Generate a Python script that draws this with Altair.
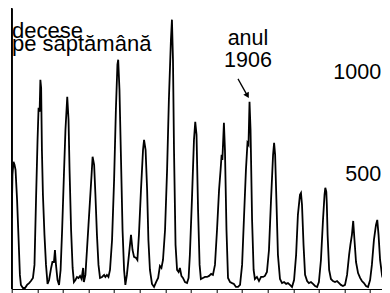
import altair as alt
import pandas as pd

# weekly deaths, x as fractional year
years = [1897.00, 1897.03, 1897.07, 1897.11, 1897.15, 1897.21, 1897.27, 1897.32, 1897.36, 1897.44,
         1897.52, 1897.60, 1897.68, 1897.75, 1897.83, 1897.89, 1897.95, 1898.01, 1898.05, 1898.09,
         1898.12, 1898.15, 1898.18, 1898.22, 1898.28, 1898.34, 1898.40, 1898.46, 1898.54, 1898.59,
         1898.65, 1898.69, 1898.73, 1898.79, 1898.85, 1898.91, 1898.97, 1899.04, 1899.10, 1899.17,
         1899.22, 1899.26, 1899.32, 1899.38, 1899.43, 1899.49, 1899.55, 1899.61, 1899.67, 1899.73,
         1899.79, 1899.82, 1899.88, 1899.94, 1900.00, 1900.06, 1900.12, 1900.16, 1900.22, 1900.27,
         1900.33, 1900.39, 1900.45, 1900.53, 1900.61, 1900.66, 1900.72, 1900.78, 1900.84, 1900.92,
         1901.00, 1901.07, 1901.13, 1901.16, 1901.21, 1901.27, 1901.33, 1901.39, 1901.44, 1901.50,
         1901.58, 1901.66, 1901.72, 1901.78, 1901.86, 1901.91, 1901.97, 1902.05, 1902.13, 1902.17,
         1902.23, 1902.29, 1902.34, 1902.40, 1902.48, 1902.56, 1902.64, 1902.72, 1902.79, 1902.85,
         1902.91, 1902.99, 1903.07, 1903.14, 1903.22, 1903.26, 1903.30, 1903.34, 1903.40, 1903.46,
         1903.52, 1903.57, 1903.63, 1903.69, 1903.77, 1903.85, 1903.91, 1903.96, 1904.04, 1904.12,
         1904.17, 1904.22, 1904.28, 1904.34, 1904.39, 1904.47, 1904.55, 1904.63, 1904.71, 1904.79,
         1904.86, 1904.94, 1905.02, 1905.10, 1905.16, 1905.20, 1905.23, 1905.29, 1905.33, 1905.39,
         1905.45, 1905.53, 1905.61, 1905.68, 1905.76, 1905.84, 1905.92, 1906.00, 1906.07, 1906.15,
         1906.21, 1906.25, 1906.29, 1906.33, 1906.39, 1906.45, 1906.50, 1906.58, 1906.66, 1906.74,
         1906.82, 1906.89, 1906.97, 1907.05, 1907.13, 1907.21, 1907.25, 1907.29, 1907.34, 1907.40,
         1907.48, 1907.56, 1907.64, 1907.72, 1907.79, 1907.87, 1907.95, 1908.03, 1908.11, 1908.18,
         1908.26, 1908.30, 1908.34, 1908.40, 1908.46, 1908.54, 1908.61, 1908.69, 1908.77, 1908.85,
         1908.93, 1909.00, 1909.08, 1909.16, 1909.22, 1909.25, 1909.29, 1909.31, 1909.34, 1909.40,
         1909.47, 1909.55, 1909.63, 1909.71, 1909.79, 1909.86, 1909.94, 1910.02, 1910.10, 1910.18,
         1910.23, 1910.29, 1910.34, 1910.39, 1910.45, 1910.53, 1910.61, 1910.68, 1910.76, 1910.84,
         1910.92, 1911.00, 1911.07, 1911.15, 1911.23, 1911.28, 1911.33, 1911.39, 1911.47, 1911.54,
         1911.62, 1911.70, 1911.78]

deaths = [348, 559, 622, 608, 583, 436, 240, 69, 20, 5,
          5, 20, 29, 39, 54, 118, 436, 730, 887, 867,
          1024, 985, 681, 461, 265, 118, 25, 44, 103, 132,
          132, 191, 118, 44, 20, 93, 289, 559, 779, 941,
          828, 583, 289, 103, 34, 44, 59, 54, 64, 49,
          103, 34, 69, 191, 314, 436, 559, 647, 608, 461,
          265, 118, 54, 59, 69, 59, 69, 59, 93, 240,
          534, 877, 1098, 1122, 975, 632, 289, 93, 20, 69,
          167, 265, 191, 157, 152, 142, 265, 485, 681, 730,
          681, 485, 240, 93, 25, 10, 34, 54, 113, 103,
          142, 289, 583, 926, 1220, 1318, 1122, 681, 216, 93,
          83, 103, 64, 54, 34, 29, 54, 167, 436, 730,
          818, 755, 387, 118, 49, 54, 59, 59, 64, 74,
          69, 118, 289, 485, 583, 657, 632, 813, 681, 289,
          54, 34, 29, 25, 10, 10, 20, 118, 338, 583,
          715, 706, 916, 779, 338, 93, 49, 59, 39, 59,
          59, 64, 83, 191, 436, 657, 715, 657, 436, 167,
          49, 29, 34, 25, 29, 20, 10, 44, 167, 363,
          461, 470, 412, 216, 69, 39, 29, 34, 25, 15,
          10, 34, 142, 338, 461, 495, 475, 412, 265, 93,
          49, 39, 34, 39, 29, 20, 15, 20, 69, 167,
          216, 265, 333, 240, 132, 78, 54, 39, 29, 15,
          10, 44, 118, 240, 314, 338, 265, 142, 64, 39,
          29, 25, 20]

tick_years = list(range(1897, 1912))
x_domain = [1897, 1911.465]
y_domain = [0, 1375]

# annotation texts
title_lines = [["decese", "pe săptămână"]]
title_year = [1897.01]
title_value = [1230]

note_lines = [["anul", "1906"]]
note_year = [1906.23]
note_value = [1196]

scale_text = ["1000", "500"]
scale_value = [1000, 500]
scale_year = [1911.43, 1911.43]

arrow_year = [1905.84]
arrow_value = [1028]
arrow_year2 = [1906.19]
arrow_value2 = [950]

df = pd.DataFrame({"year": years, "deaths": deaths})
df_title = pd.DataFrame({"t": title_lines, "year": title_year, "deaths": title_value})
df_note = pd.DataFrame({"t": note_lines, "year": note_year, "deaths": note_value})
df_scale = pd.DataFrame({"t": scale_text, "year": scale_year, "deaths": scale_value})
df_arrow = pd.DataFrame({"year": arrow_year, "deaths": arrow_value,
                         "year2": arrow_year2, "deaths2": arrow_value2})
df_yline = pd.DataFrame({"year": [x_domain[0]], "deaths": [y_domain[0]],
                         "deaths2": [y_domain[1]]})

x_scale = alt.Scale(domain=x_domain, nice=False, zero=False)
y_scale = alt.Scale(domain=y_domain, nice=False, zero=True)

xa = alt.Axis(values=tick_years, labels=False, ticks=True, tickSize=4,
              grid=False, title=None, domainColor="black", tickColor="black",
              domainWidth=1.1, tickWidth=1)
ya = alt.Axis(labels=False, ticks=False, grid=False, title=None, domain=True,
              domainColor="black", domainWidth=1.4)

X = alt.X("year:Q", scale=x_scale, axis=xa)
Y = alt.Y("deaths:Q", scale=y_scale, axis=ya)

FONT = "Liberation Sans"

line = alt.Chart(df).mark_line(color="black", strokeWidth=1.8, clip=True).encode(x=X, y=Y)

y_line = alt.Chart(df_yline).mark_rule(color="black", strokeWidth=1.4).encode(
    x=X, y=Y, y2="deaths2:Q")

t_title = alt.Chart(df_title).mark_text(align="left", baseline="alphabetic", font=FONT,
                                        fontSize=22, lineHeight=13, color="black").encode(
    x=X, y=Y, text="t")
t_note = alt.Chart(df_note).mark_text(align="center", baseline="alphabetic", font=FONT,
                                      fontSize=21.5, lineHeight=22, color="black").encode(
    x=X, y=Y, text="t")
t_scale = alt.Chart(df_scale).mark_text(align="right", baseline="bottom", font=FONT,
                                        fontSize=21.5, color="black", dy=-1).encode(
    x=X, y=Y, text="t:N")
arrow_shaft = alt.Chart(df_arrow).mark_rule(color="black", strokeWidth=1.3).encode(
    x=X, y=Y, x2="year2:Q", y2="deaths2:Q")
arrow_head = alt.Chart(df_arrow).mark_point(shape="triangle", angle=150, filled=True,
                                            size=40, color="black", opacity=1).encode(
    x=alt.X("year2:Q", scale=x_scale, axis=xa),
    y=alt.Y("deaths2:Q", scale=y_scale, axis=ya))

chart = alt.layer(line, y_line, t_title, t_note, t_scale, arrow_shaft, arrow_head).properties(
    width=370.3, height=281,
    padding={"left": 3.7, "top": 0, "right": 0, "bottom": 4},
    autosize=alt.AutoSizeParams(type="none"),
).configure_view(stroke=None)

chart.save("out.html", embed_options={"renderer": "svg", "actions": False})
